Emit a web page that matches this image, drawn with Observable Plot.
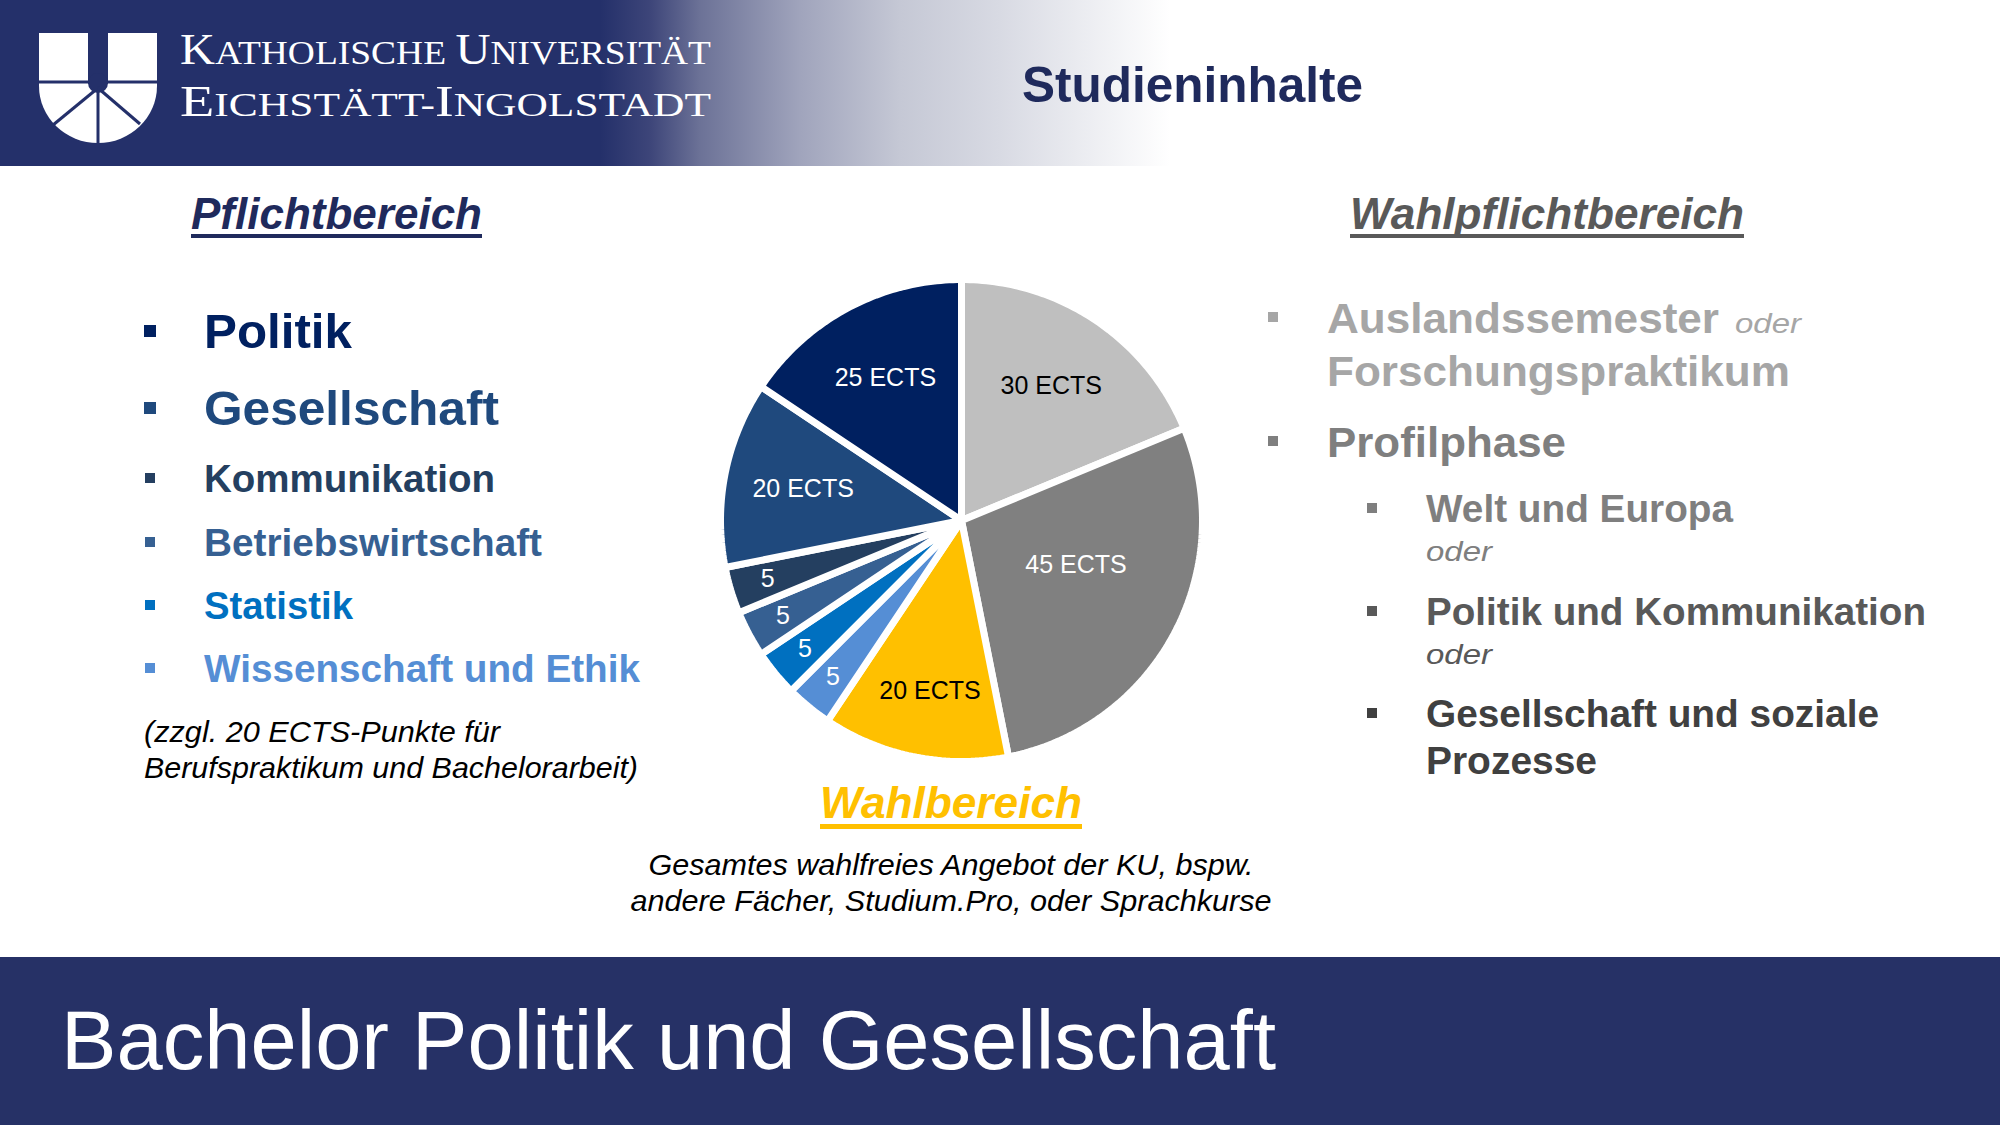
<!DOCTYPE html>
<html>
<head>
<meta charset="utf-8">
<script src="https://cdn.jsdelivr.net/npm/d3@7"></script>
<script src="https://cdn.jsdelivr.net/npm/@observablehq/plot@0.6"></script>
<style>
  html, body { margin: 0; padding: 0; background: #fff; }
  #slide { position: relative; width: 2000px; height: 1125px; overflow: hidden; font-family: "Liberation Sans", Arial, sans-serif; }
  #deco { position: absolute; left: 0; top: 0; }
  #pie { position: absolute; left: 681px; top: 240px; }
</style>
</head>
<body>
<div id="slide">
  <svg id="deco" width="2000" height="1125"></svg>
  <div id="pie"></div>
</div>
<script>
// ---- Data ----
const categories = ["Auslandssemester / Forschungspraktikum", "Profilphase", "Wahlbereich",
  "Wissenschaft und Ethik", "Statistik", "Betriebswirtschaft", "Kommunikation", "Gesellschaft", "Politik"];
const ectsValues = [30, 45, 20, 5, 5, 5, 5, 20, 25];
const sliceLabels = ["30 ECTS", "45 ECTS", "20 ECTS", "5", "5", "5", "5", "20 ECTS", "25 ECTS"];
const darkLabelCats = ["Auslandssemester / Forschungspraktikum", "Wahlbereich"];

const pflichtItems = ["Politik", "Gesellschaft", "Kommunikation", "Betriebswirtschaft", "Statistik", "Wissenschaft und Ethik"];
const pflichtNote = ["(zzgl. 20 ECTS-Punkte für", "Berufspraktikum und Bachelorarbeit)"];
const wahlpflichtItems = ["Auslandssemester", "Forschungspraktikum", "Profilphase"];
const profilItems = ["Welt und Europa", "Politik und Kommunikation", "Gesellschaft und soziale", "Prozesse"];
const wahlText = ["Gesamtes wahlfreies Angebot der KU, bspw.", "andere Fächer, Studium.Pro, oder Sprachkurse"];

// ---- Pie via Plot ----
const palette = ["#BFBFBF", "#808080", "#FFC000", "#558ED5", "#0070C0", "#366092", "#243F60", "#1F497D", "#002060"];
const R = 241;
const total = d3.sum(ectsValues);
let acc = 0;
const slices = categories.map((cat, i) => {
  const a0 = acc / total * 2 * Math.PI;
  acc += ectsValues[i];
  const a1 = acc / total * 2 * Math.PI;
  return {cat, value: ectsValues[i], label: sliceLabels[i], a0, a1, mid: (a0 + a1) / 2};
});
const points = [];
for (const s of slices) {
  points.push({cat: s.cat, x: 0, y: 0});
  const n = Math.max(4, Math.ceil((s.a1 - s.a0) / (Math.PI / 180)));
  for (let k = 0; k <= n; k++) {
    const a = s.a0 + (s.a1 - s.a0) * k / n;
    points.push({cat: s.cat, x: R * Math.sin(a), y: R * Math.cos(a)});
  }
  points.push({cat: s.cat, x: 0, y: 0});
}
// label radius: small slices near the rim, the largest slice nearer the centre
const lr = s => (s.value < 10 ? 0.84 : s.value >= 40 ? 0.51 : 0.67) * R;
const la = s => s.value >= 40 ? s.mid - 0.12 : s.mid;
const font = "Liberation Sans, Arial, sans-serif";
const pie = Plot.plot({
  width: 560, height: 560, margin: 0,
  x: {domain: [-280, 280], axis: null},
  y: {domain: [-280, 280], axis: null},
  color: {domain: categories, range: palette},
  style: {background: "transparent"},
  marks: [
    Plot.line(points, {x: "x", y: "y", z: "cat", fill: "cat", stroke: "white", strokeWidth: 7, strokeLinejoin: "miter"}),
    Plot.text(slices, {filter: s => !darkLabelCats.includes(s.cat), x: s => lr(s) * Math.sin(la(s)), y: s => lr(s) * Math.cos(la(s)),
      text: "label", fill: "white", fontSize: 25, fontFamily: font}),
    Plot.text(slices, {filter: s => darkLabelCats.includes(s.cat), x: s => lr(s) * Math.sin(la(s)), y: s => lr(s) * Math.cos(la(s)) - (s.value === 20 ? 12 : 0),
      text: "label", fill: "black", fontSize: 25, fontFamily: font})
  ]
});
document.getElementById("pie").appendChild(pie);

// ---- Slide decoration & text ----
const NS = "http://www.w3.org/2000/svg";
const deco = document.getElementById("deco");
function el(tag, attrs, parent = deco) {
  const e = document.createElementNS(NS, tag);
  for (const k in attrs) e.setAttribute(k, attrs[k]);
  parent.appendChild(e);
  return e;
}
function txt(str, x, y, size, opts = {}) {
  const t = el("text", {x, y, "font-size": size, fill: opts.fill || "#000",
    "font-family": opts.family || font,
    "font-weight": opts.weight || "normal", "font-style": opts.style || "normal",
    "text-anchor": opts.anchor || "start"});
  if (opts.len) { t.setAttribute("textLength", opts.len); t.setAttribute("lengthAdjust", "spacingAndGlyphs"); }
  t.textContent = str;
  return t;
}
const defs = el("defs", {});
const grad = el("linearGradient", {id: "hg", x1: 0, x2: 2000, y1: 0, y2: 0, gradientUnits: "userSpaceOnUse"}, defs);
[[0, "#24306a"], [600, "#24306a"], [650, "#3d4579"], [700, "#6c7297"], [800, "#a0a4bc"], [900, "#c5c8d5"], [1000, "#d8dae3"], [1170, "#ffffff"], [2000, "#ffffff"]]
  .forEach(([o, c]) => el("stop", {offset: o / 2000, "stop-color": c}, grad));
el("rect", {x: 0, y: 0, width: 2000, height: 166, fill: "url(#hg)"});

// logo
const navy = "#24306a";
el("path", {d: "M39,33 H157 V86 A59,57 0 0 1 39,86 Z", fill: "#fff"});
el("line", {x1: 37, y1: 82, x2: 159, y2: 82, stroke: navy, "stroke-width": 3});
el("rect", {x: 88, y: 30, width: 20, height: 54, fill: navy});
el("circle", {cx: 98, cy: 83, r: 10, fill: navy});
el("line", {x1: 98, y1: 88, x2: 98, y2: 146, stroke: navy, "stroke-width": 3});
el("line", {x1: 98, y1: 88, x2: 53, y2: 125, stroke: navy, "stroke-width": 3});
el("line", {x1: 98, y1: 88, x2: 140, y2: 124, stroke: navy, "stroke-width": 3});

function smallCaps(parts, x, y, len) {
  const t = el("text", {x, y, fill: "#fff", "font-family": "Liberation Serif, Times New Roman, serif", textLength: len, lengthAdjust: "spacingAndGlyphs"});
  parts.forEach(([s, big]) => { const ts = el("tspan", {"font-size": big ? 44 : 34}, t); ts.textContent = s; });
}
smallCaps([["K", 1], ["ATHOLISCHE ", 0], ["U", 1], ["NIVERSITÄT", 0]], 180, 64, 531);
smallCaps([["E", 1], ["ICHSTÄTT-", 0], ["I", 1], ["NGOLSTADT", 0]], 180, 116, 531);

txt("Studieninhalte", 1022, 102, 50, {weight: "bold", fill: "#1f2a5c", len: 341});

// Pflichtbereich
txt("Pflichtbereich", 191, 229, 44, {weight: "bold", style: "italic", fill: "#1f2a5c", len: 291});
el("rect", {x: 191, y: 234, width: 291, height: 4, fill: "#1f2a5c"});
const pfColors = ["#002060", "#1F497D", "#243F60", "#366092", "#0070C0", "#558ED5"];
const pfBase = [348, 425, 492, 556, 619, 682];
const pfSize = [49, 49, 38.5, 38.5, 38.5, 38.5];
const pfLen = [148, 295, 291, 338, 149, 436];
pflichtItems.forEach((s, i) => {
  const b = i < 2 ? 12 : 10;
  el("rect", {x: 150 - b / 2, y: pfBase[i] - (i < 2 ? 17 : 14) - b / 2, width: b, height: b, fill: pfColors[i]});
  txt(s, 204, pfBase[i], pfSize[i], {weight: "bold", fill: pfColors[i], len: pfLen[i]});
});
txt(pflichtNote[0], 144, 742, 29, {style: "italic", len: 356});
txt(pflichtNote[1], 144, 778, 29, {style: "italic", len: 494});

// Wahlpflichtbereich
txt("Wahlpflichtbereich", 1350, 229, 44, {weight: "bold", style: "italic", fill: "#595959", len: 394});
el("rect", {x: 1350, y: 234, width: 394, height: 4, fill: "#595959"});
el("rect", {x: 1268, y: 312, width: 10, height: 10, fill: "#A6A6A6"});
txt(wahlpflichtItems[0], 1327, 333, 43, {weight: "bold", fill: "#A6A6A6", len: 392});
txt("oder", 1735, 333, 28, {style: "italic", fill: "#A6A6A6", len: 66});
txt(wahlpflichtItems[1], 1327, 386, 43, {weight: "bold", fill: "#A6A6A6", len: 463});
el("rect", {x: 1268, y: 436, width: 10, height: 10, fill: "#7F7F7F"});
txt(wahlpflichtItems[2], 1327, 457, 43, {weight: "bold", fill: "#7F7F7F", len: 239});

const prColors = ["#7F7F7F", "#595959", "#404040", "#404040"];
const prBase = [522, 625, 727, 774];
const prLen = [307, 500, 453, 171];
profilItems.forEach((s, i) => {
  if (i < 3) el("rect", {x: 1367, y: prBase[i] - 19, width: 10, height: 10, fill: prColors[i]});
  txt(s, 1426, prBase[i], 38.5, {weight: "bold", fill: prColors[i], len: prLen[i]});
});
txt("oder", 1426, 561, 28, {style: "italic", fill: "#7F7F7F", len: 66});
txt("oder", 1426, 664, 28, {style: "italic", fill: "#595959", len: 66});

// Wahlbereich
txt("Wahlbereich", 951, 818, 44, {weight: "bold", style: "italic", fill: "#FFC000", anchor: "middle", len: 262});
el("rect", {x: 820, y: 824, width: 262, height: 5, fill: "#FFC000"});
txt(wahlText[0], 951, 875, 30, {style: "italic", anchor: "middle", len: 605});
txt(wahlText[1], 951, 911, 30, {style: "italic", anchor: "middle", len: 641});

// Footer
el("rect", {x: 0, y: 957, width: 2000, height: 168, fill: "#263166"});
txt("Bachelor Politik und Gesellschaft", 61, 1069, 84, {fill: "#fff", len: 1215});
</script>
</body>
</html>
